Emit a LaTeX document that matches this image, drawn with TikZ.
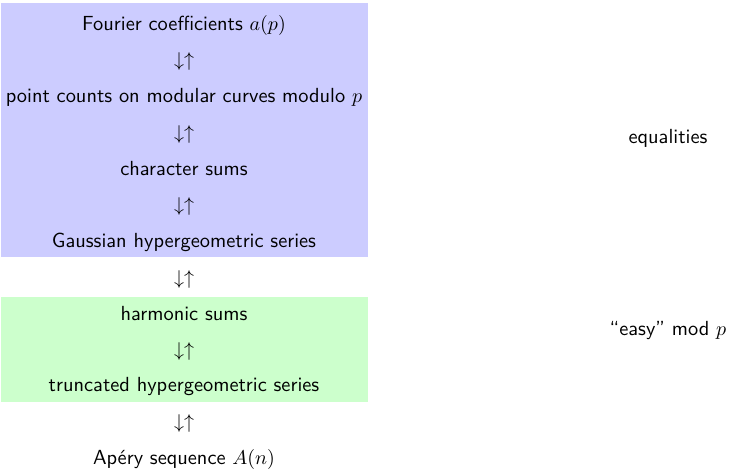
\documentclass[tikz,border=0pt]{standalone}
\usepackage{amsmath}
\usepackage{xcolor}
\usetikzlibrary{positioning, calc}

\begin{document}
\begin{tikzpicture}[
    x=0.5pt, y=-0.5pt,
    item/.style={anchor=base, font=\fontsize{10.2}{12}\selectfont\sffamily},
    dual/.style={anchor=base, font=\fontsize{10.2}{12}\selectfont},
    every node/.style={inner sep=0pt}
]
\useasboundingbox (0,0) rectangle (729,470);

% coloured bands
\fill[blue!20] (1,3) rectangle (368,257);
\fill[green!20] (1,297) rectangle (368,402);

\node[item] (fourier) at (184,31) {Fourier coefficients $a(p)$};
\node[item] (points) at (184,103) {point counts on modular curves modulo $p$};
\node[item] (chars) at (184,176) {character sums};
\node[item] (gauss) at (184,248) {Gaussian hypergeometric series};
\node[item] (harm) at (184,321) {harmonic sums};
\node[item] (trunc) at (184,392) {truncated hypergeometric series};
\node[item] (apery) at (184,465) {Ap\'ery sequence $A(n)$};

\foreach \a/\b [count=\i] in {fourier/points, points/chars, chars/gauss, gauss/harm, harm/trunc, trunc/apery} {
    \node[dual] (link\i) at ($(\a.base)!0.5!(\b.base)$) {$\downarrow\uparrow$};
}

% side remarks
\node[item] (eq) at (668,144) {equalities};
\node[item] (easy) at (668,336) {``easy'' mod $p$};

\end{tikzpicture}
\end{document}
